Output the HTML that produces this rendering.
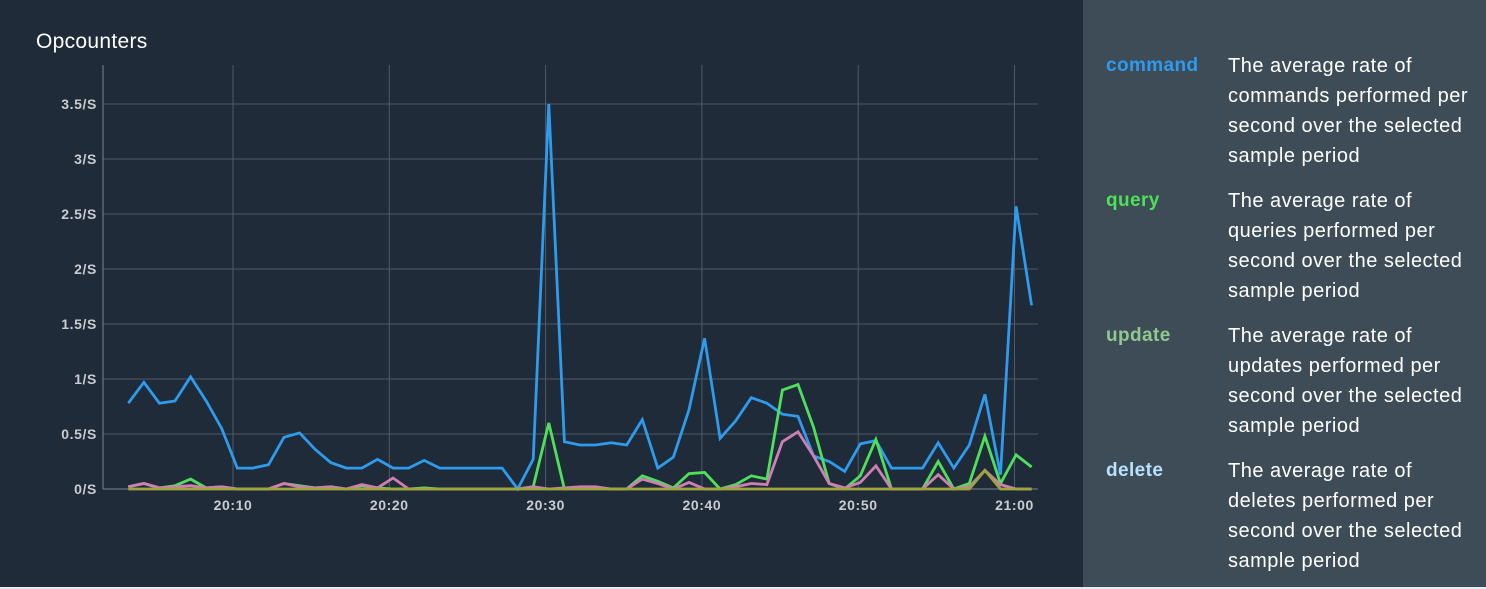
<!DOCTYPE html>
<html><head><meta charset="utf-8"><style>
body{margin:0;width:1486px;height:589px;overflow:hidden;background:#e8eaec;font-family:"Liberation Sans",sans-serif}
#left{position:absolute;left:0;top:0;width:1083px;height:587px;background:#1f2b38}
#right{position:absolute;left:1083px;top:0;width:403px;height:587px;background:#3d4c56;overflow:hidden}
.title{position:absolute;left:36px;top:30px;color:#fff;font-size:21px;letter-spacing:0.3px}
.row{position:absolute;left:0;width:460px}
.nm{position:absolute;left:23px;top:3px;font-weight:bold;font-size:19px;letter-spacing:0.4px}
.ds{position:absolute;left:145px;top:-1px;color:#fff;font-size:20px;line-height:30px;white-space:nowrap;letter-spacing:0.5px}
</style></head><body>
<div id="left">
<div class="title">Opcounters</div>
<svg id="chart" width="1083" height="587" style="position:absolute;left:0;top:0"></svg>
</div>
<div id="right">
<div class="row" style="top:52px"><div class="nm" style="color:#2d9cf0">command</div><div class="ds">The average rate of<br>commands performed per<br>second over the selected<br>sample period</div></div>
<div class="row" style="top:187px"><div class="nm" style="color:#4fe05a">query</div><div class="ds">The average rate of<br>queries performed per<br>second over the selected<br>sample period</div></div>
<div class="row" style="top:322px"><div class="nm" style="color:#8fc98f">update</div><div class="ds">The average rate of<br>updates performed per<br>second over the selected<br>sample period</div></div>
<div class="row" style="top:457px"><div class="nm" style="color:#b8e0ff">delete</div><div class="ds">The average rate of<br>deletes performed per<br>second over the selected<br>sample period</div></div>
</div>
<script>
const yTicks=[0,0.5,1,1.5,2,2.5,3,3.5];
const yTickLabels=["0/S","0.5/S","1/S","1.5/S","2/S","2.5/S","3/S","3.5/S"];
const xTicks=[10,20,30,40,50,60];
const xTickLabels=["20:10","20:20","20:30","20:40","20:50","21:00"];
const startMinute=3.3;
const command=[0.78,0.97,0.78,0.80,1.02,0.80,0.55,0.19,0.19,0.22,0.47,0.51,0.36,0.24,0.19,0.19,0.27,0.19,0.19,0.26,0.19,0.19,0.19,0.19,0.19,0,0.27,3.5,0.43,0.40,0.40,0.42,0.40,0.63,0.19,0.29,0.72,1.37,0.46,0.62,0.83,0.78,0.68,0.66,0.30,0.25,0.16,0.41,0.44,0.19,0.19,0.19,0.42,0.19,0.40,0.86,0.13,2.57,1.67];
const query=[0.02,0.05,0.01,0.03,0.09,0.01,0.02,0,0,0,0.05,0.03,0.01,0.02,0,0.03,0.01,0,0,0.01,0,0,0,0,0,0,0.02,0.6,0,0.01,0.01,0,0,0.12,0.07,0.01,0.14,0.15,0,0.04,0.12,0.09,0.9,0.95,0.56,0.05,0,0.12,0.45,0,0,0,0.25,0,0.05,0.48,0.05,0.31,0.2];
const update=[0,0,0,0,0,0,0,0,0,0,0,0,0,0,0,0,0,0,0,0,0,0,0,0,0,0,0,0,0,0,0,0,0,0,0,0,0,0,0,0,0,0,0,0,0,0,0,0,0,0,0,0,0,0,0,0.17,0,0,0];
const del=[0.02,0.05,0.01,0.02,0.03,0.01,0.02,0,0,0,0.05,0.02,0.01,0.02,0,0.04,0.01,0.1,0,0,0,0,0,0,0,0,0.02,0,0.01,0.02,0.02,0,0,0.09,0.05,0,0.06,0,0,0.02,0.05,0.04,0.43,0.52,0.3,0.05,0.01,0.06,0.21,0,0,0,0.13,0,0.02,0.17,0.04,0,0];
const NS='http://www.w3.org/2000/svg';
const svg=document.getElementById('chart');
const xS=m=>233+(m-10)*15.63;
const yS=v=>489-v*110;
function mk(t,a){const e=document.createElementNS(NS,t);for(const k in a)e.setAttribute(k,a[k]);svg.appendChild(e);return e;}
yTicks.forEach((v,i)=>{
 if(v>0){const g=mk('line',{x1:103,x2:1038,y1:yS(v),y2:yS(v),stroke:'#4e5a66','stroke-width':1});
 
 }
 const t=mk('text',{x:97,y:yS(v)+5,'text-anchor':'end',fill:'#c9ccd0','font-size':14,'font-weight':'bold','letter-spacing':'0.6','font-family':'Liberation Sans, sans-serif'});
 t.textContent=yTickLabels[i];
 
 
});
xTicks.forEach((m,i)=>{
 const g=mk('line',{x1:xS(m),x2:xS(m),y1:65,y2:489,stroke:'#4e5a66','stroke-width':1});
 
 
 const t=mk('text',{x:xS(m),y:510,'text-anchor':'middle',fill:'#c9ccd0','font-size':14,'font-weight':'bold','letter-spacing':'0.6','font-family':'Liberation Sans, sans-serif'});
 t.textContent=xTickLabels[i];
 
 
});
const ax=mk('line',{x1:103,x2:103,y1:65,y2:489,stroke:'#7a848e','stroke-width':1});


const bx=mk('line',{x1:103,x2:1038,y1:489,y2:489,stroke:'#7a848e','stroke-width':1});


function series(arr,color,name){
 const pts=arr.map((v,i)=>xS(startMinute+i*0.9965).toFixed(1)+','+yS(v).toFixed(1)).join(' ');
 const p=mk('polyline',{points:pts,fill:'none',stroke:color,'stroke-width':2.8,'stroke-linejoin':'miter'});
 
 
}
series(command,'#2f9bec','command-line');
series(query,'#4ee05b','query-line');
series(del,'#d07fb5','delete-line');
series(update,'#a0a43c','update-line');
</script>
</body></html>
